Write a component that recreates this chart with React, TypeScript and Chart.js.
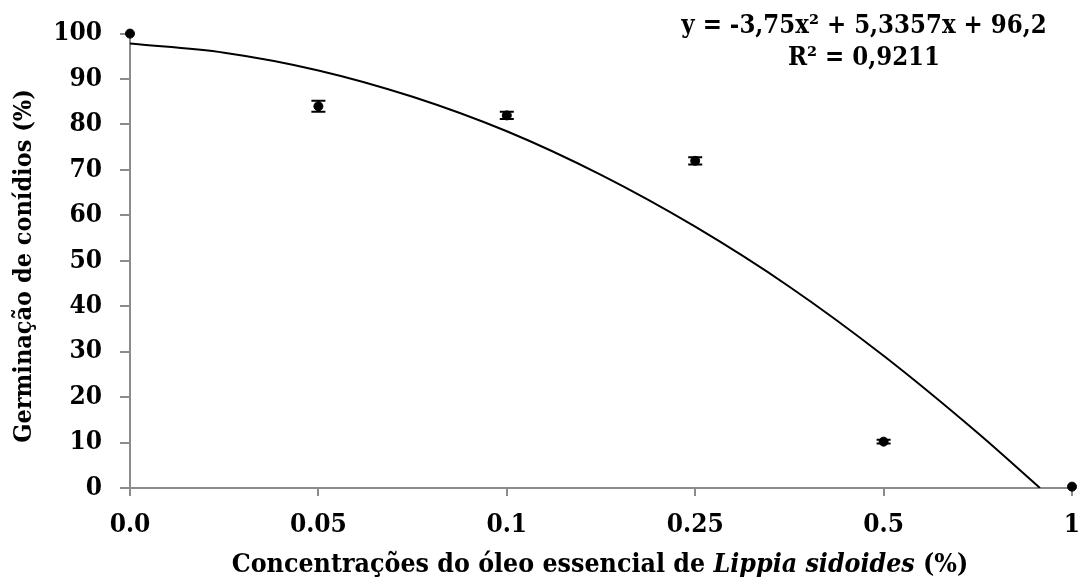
import React, { useEffect, useRef } from "react";
import { Chart, registerables } from "chart.js";

Chart.register(...registerables);

const categories = ["0.0", "0.05", "0.1", "0.25", "0.5", "1"];
const categoryPositions = [1, 2, 3, 4, 5, 6];
const germination = [100, 84, 82, 72, 10.2, 0.3];
const errorBars = [0, 1.2, 0.8, 0.8, 0.4, 0];
const trendX = [1, 1.5, 2, 2.5, 3, 3.5, 4, 4.5, 5, 5.5, 5.83];
const trendY = [97.8, 95.8, 91.9, 86.1, 78.5, 68.9, 57.5, 44.3, 29.1, 12.1, 0];
const equationText = "y = -3,75x² + 5,3357x + 96,2";
const r2Text = "R² = 0,9211";
const yTitle = "Germinação de conídios (%)";
const xTitleParts = ["Concentrações do óleo essencial de ", "Lippia sidoides", " (%)"];

const FONT = "'DejaVu Serif Condensed', 'DejaVu Serif', serif";
const AXIS_COLOR = "#8c8c8c";

const errorBarPlugin = {
  id: "errorBars",
  afterDatasetsDraw(chart: any) {
    const { ctx } = chart;
    const xs = chart.scales.x;
    const ys = chart.scales.y;
    ctx.save();
    ctx.strokeStyle = "#000";
    ctx.lineWidth = 2;
    categoryPositions.forEach((xv, i) => {
      const e = errorBars[i];
      if (!e) return;
      const px = xs.getPixelForValue(xv);
      const top = ys.getPixelForValue(germination[i] + e);
      const bot = ys.getPixelForValue(germination[i] - e);
      ctx.beginPath();
      ctx.moveTo(px, top);
      ctx.lineTo(px, bot);
      ctx.moveTo(px - 7, top);
      ctx.lineTo(px + 7, top);
      ctx.moveTo(px - 7, bot);
      ctx.lineTo(px + 7, bot);
      ctx.stroke();
    });
    ctx.restore();
  },
};

const textPlugin = {
  id: "texts",
  afterDraw(chart: any) {
    const { ctx } = chart;
    ctx.save();
    ctx.fillStyle = "#000";
    ctx.textBaseline = "middle";
    // y title
    ctx.save();
    ctx.translate(24, 266);
    ctx.rotate(-Math.PI / 2);
    ctx.textAlign = "center";
    ctx.font = `bold 25px ${FONT}`;
    ctx.fillText(yTitle, 0, 0);
    ctx.restore();
    // x title (mixed styles)
    const fonts = [`bold 26.5px ${FONT}`, `italic bold 26.5px ${FONT}`, `bold 26.5px ${FONT}`];
    let total = 0;
    const widths = xTitleParts.map((t, i) => {
      ctx.font = fonts[i];
      const w = ctx.measureText(t).width;
      total += w;
      return w;
    });
    let x = 600 - total / 2;
    ctx.textAlign = "left";
    xTitleParts.forEach((t, i) => {
      ctx.font = fonts[i];
      ctx.fillText(t, x, 565);
      x += widths[i];
    });
    // equation
    ctx.textAlign = "center";
    ctx.font = `bold 25.5px ${FONT}`;
    ctx.fillText(equationText, 864, 26);
    ctx.fillText(r2Text, 864, 58);
    ctx.restore();
  },
};

export default function App() {
  const ref = useRef<HTMLCanvasElement>(null);
  useEffect(() => {
    if (!ref.current) return;
    const chart = new Chart(ref.current, {
      type: "scatter",
      data: {
        datasets: [
          {
            type: "line",
            data: trendX.map((x, i) => ({ x, y: trendY[i] })),
            borderColor: "#000",
            borderWidth: 2,
            pointRadius: 0,
            cubicInterpolationMode: "monotone",
            showLine: true,
          } as any,
          {
            type: "scatter",
            data: categoryPositions.map((x, i) => ({ x, y: germination[i] })),
            backgroundColor: "#000",
            borderColor: "#000",
            pointRadius: 4.5,
            clip: false,
          } as any,
        ],
      },
      options: {
        responsive: false,
        animation: false,
        layout: { padding: { top: 32, right: 18, left: 0, bottom: 0 } },
        plugins: { legend: { display: false }, tooltip: { enabled: false } },
        scales: {
          x: {
            type: "linear",
            min: 1,
            max: 6,
            afterFit: (s: any) => {
              s.height = 97;
              s.paddingRight = 0;
              s.paddingLeft = 0;
            },
            afterBuildTicks: (s: any) => {
              s.ticks = categoryPositions.map((v) => ({ value: v }));
            },
            ticks: {
              callback: (v: any) => categories[Math.round(v) - 1] ?? "",
              font: { family: FONT, size: 26, weight: "bold" },
              color: "#000",
              padding: 14,
              maxRotation: 0,
            },
            grid: { drawOnChartArea: false, drawTicks: true, tickLength: 8, color: AXIS_COLOR, lineWidth: 2 },
            border: { color: AXIS_COLOR, width: 2 },
          },
          y: {
            min: 0,
            max: 100,
            afterFit: (s: any) => {
              s.width = 130;
            },
            ticks: {
              stepSize: 10,
              font: { family: FONT, size: 26, weight: "bold" },
              color: "#000",
              padding: 18,
            },
            grid: { drawOnChartArea: false, drawTicks: true, tickLength: 10, color: AXIS_COLOR, lineWidth: 2 },
            border: { color: AXIS_COLOR, width: 2 },
          },
        },
      },
      plugins: [errorBarPlugin, textPlugin],
    } as any);
    return () => chart.destroy();
  }, []);
  return (
    <div style={{ position: "absolute", left: 0, top: 0, width: 1090, height: 585, background: "#fff" }}>
      <canvas ref={ref} width={1090} height={585} />
    </div>
  );
}
